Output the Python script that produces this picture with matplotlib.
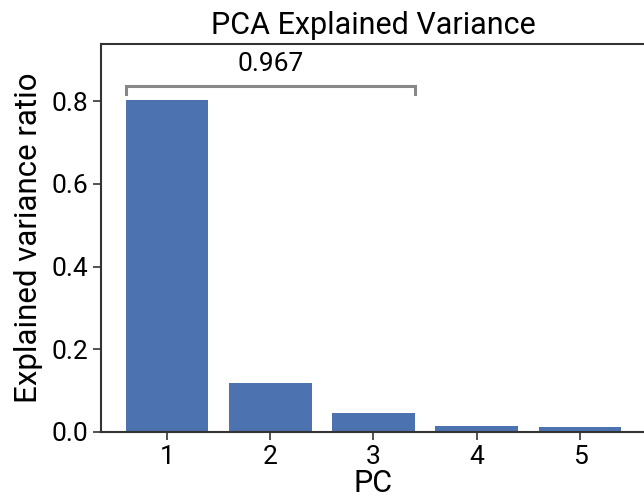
import matplotlib
matplotlib.use('Agg')
import matplotlib.pyplot as plt

plt.rcParams['font.family'] = ['Roboto', 'DejaVu Sans']

components = [1, 2, 3, 4, 5]
variance_ratio = [0.802, 0.118, 0.047, 0.014, 0.012]
n_keep = 3
cumulative_label = '0.967'


def plot_variance():
    fig = plt.figure(figsize=(6.44, 5.04), dpi=100)
    ax = fig.add_axes([0.1568, 0.1429, 0.8463, 0.7698])

    ax.bar(components, variance_ratio, width=0.8, color='#4c72b0')

    # bracket over the kept components
    x0 = components[0] - 0.4
    x1 = components[n_keep - 1] + 0.4
    y_top = 0.836
    y_low = 0.818
    ax.plot([x0, x0, x1, x1], [y_low, y_top, y_top, y_low],
            color='#888888', lw=2.2, solid_joinstyle='miter', clip_on=False)
    ax.text((x0 + x1) / 2, y_top + 0.024, cumulative_label,
            ha='center', va='bottom', fontsize=19)

    ax.set_xlim(0.36, 5.64)
    ax.set_ylim(0, 0.938)
    ax.set_xticks(components)
    ax.set_yticks([0.0, 0.2, 0.4, 0.6, 0.8])
    ax.tick_params(labelsize=19, length=6, width=1.2, color='#333333')
    for side in ['left', 'bottom', 'top']:
        ax.spines[side].set_linewidth(1.5)
        ax.spines[side].set_color('#333333')
    ax.spines['right'].set_visible(False)

    ax.set_xlabel('PC', fontsize=22, labelpad=0)
    ax.set_ylabel('Explained variance ratio', fontsize=22.5, labelpad=6)
    ax.set_title('PCA Explained Variance', fontsize=22, pad=7)

    fig.savefig('out.png', dpi=100)


if __name__ == '__main__':
    plot_variance()
